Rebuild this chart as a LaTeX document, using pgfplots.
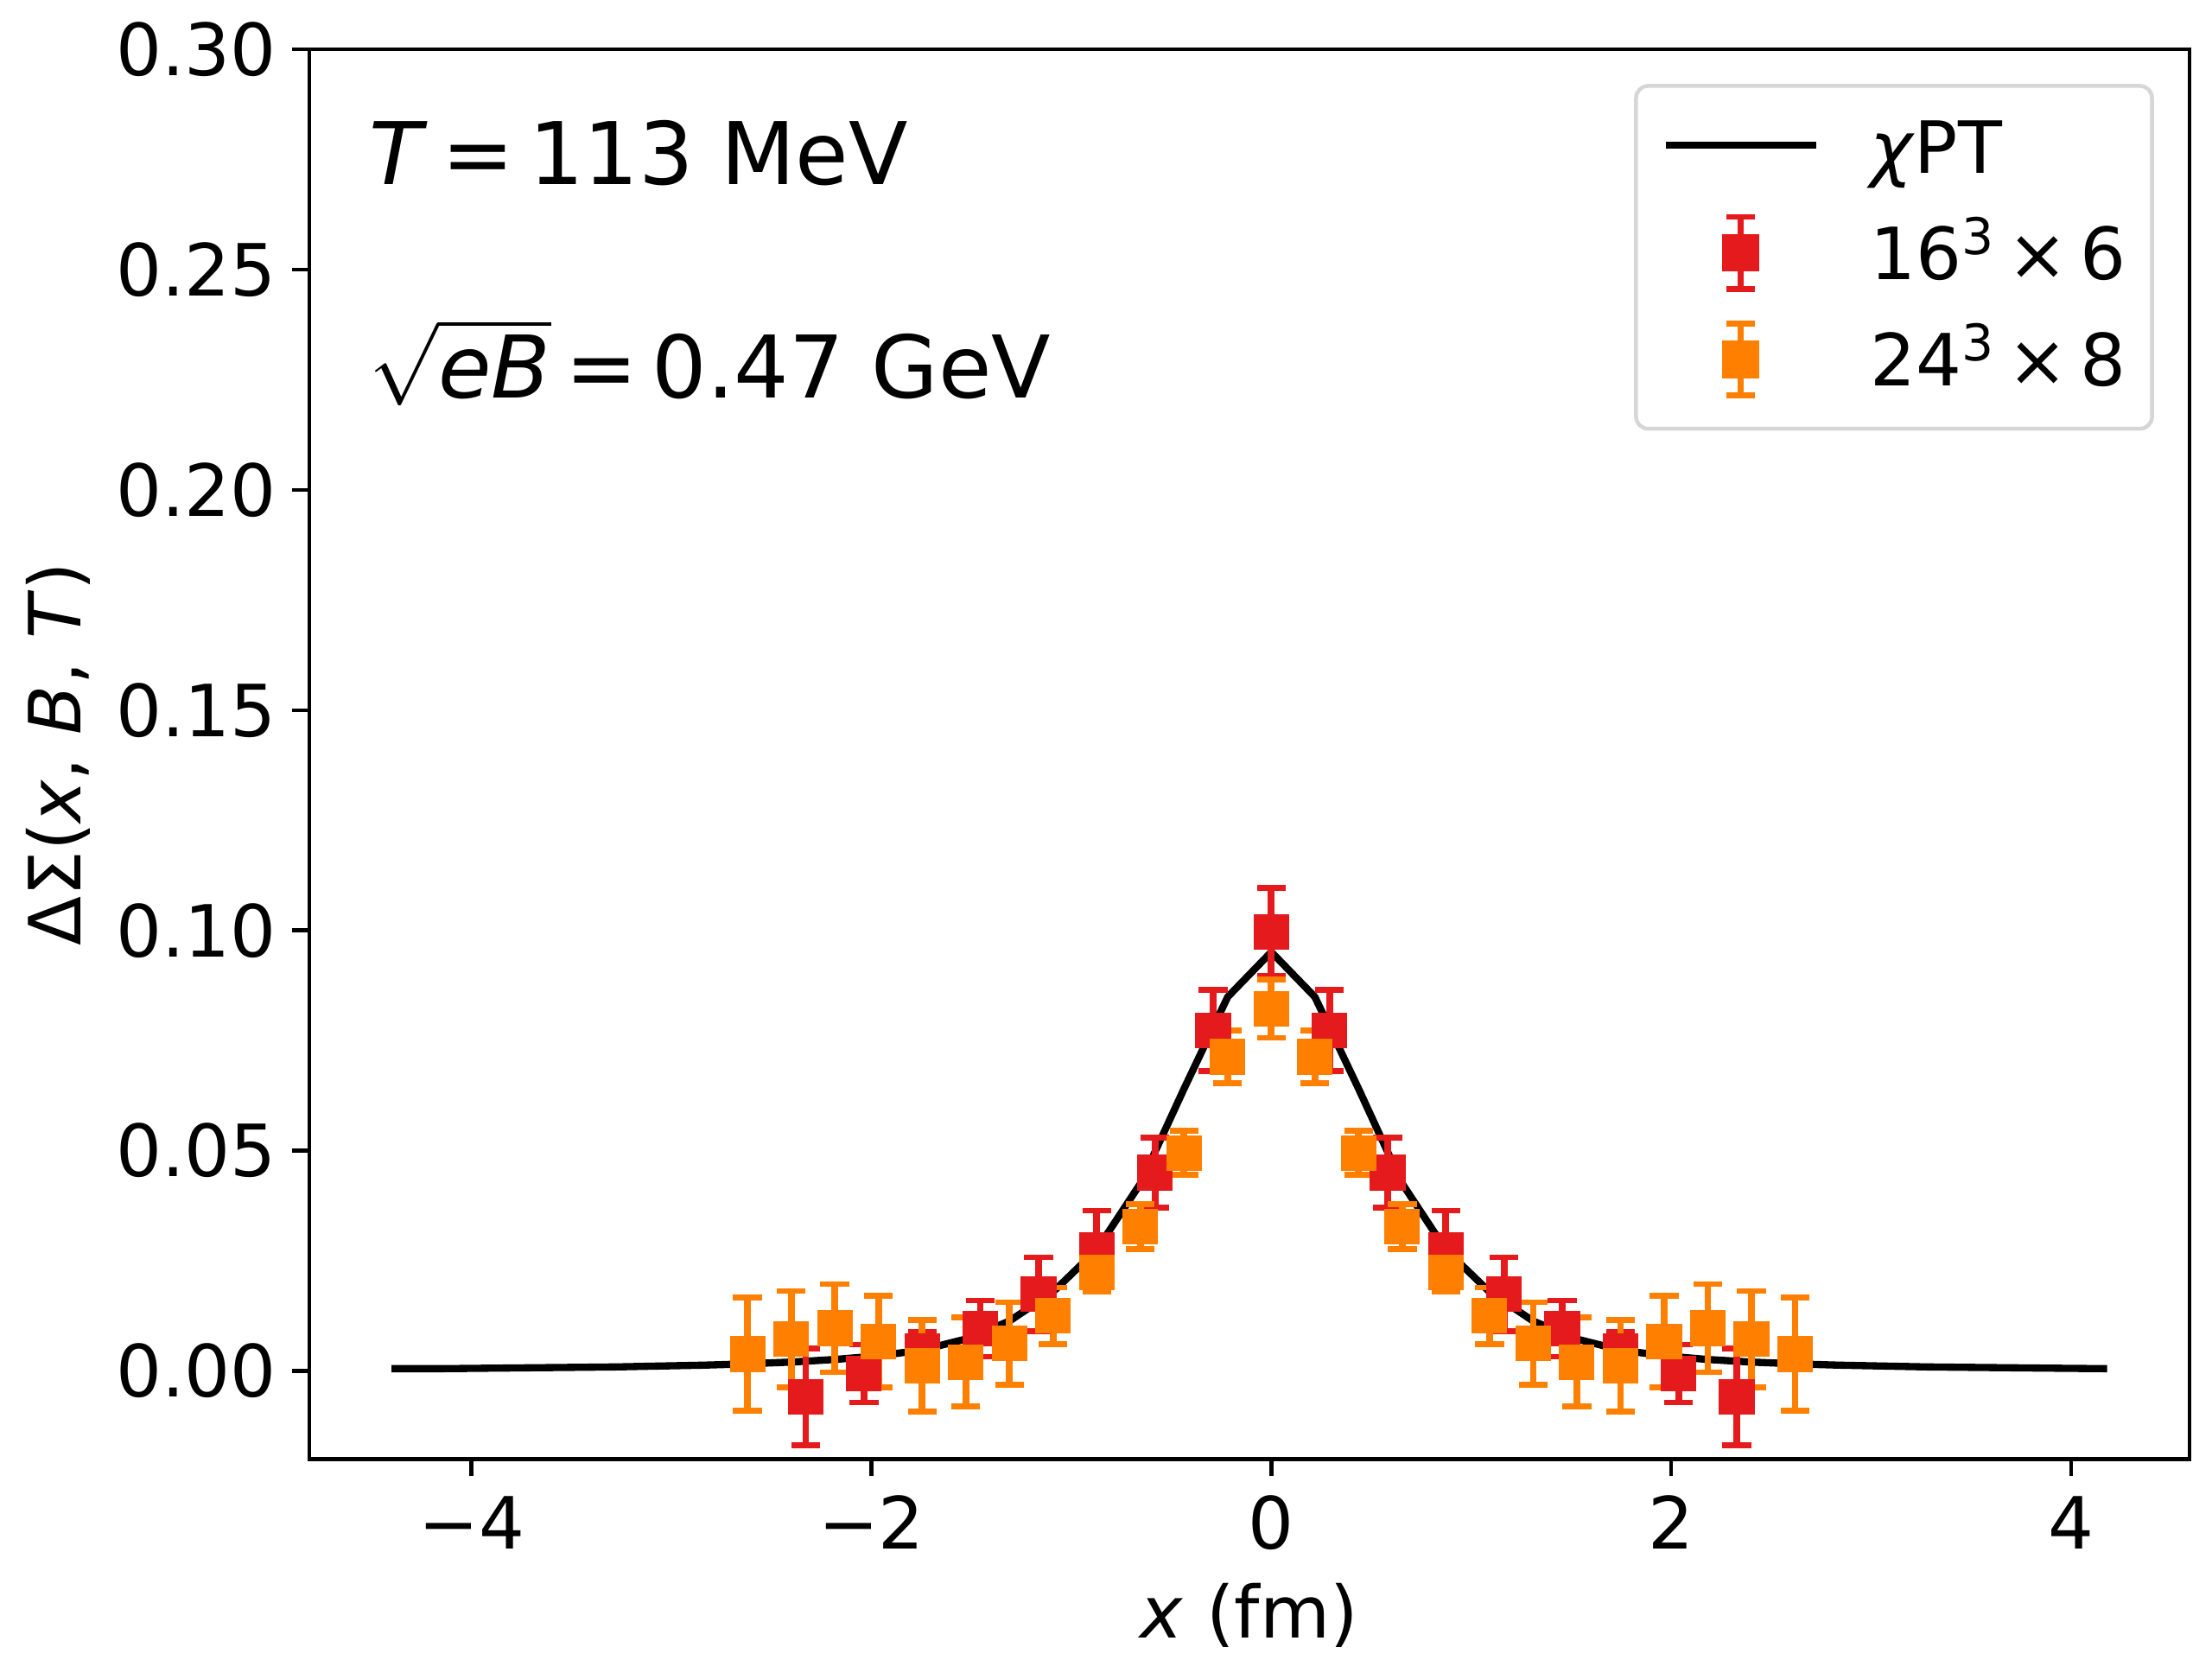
\documentclass[border=0pt]{standalone}
\usepackage{pgfplots}
\usepackage{pgfplotstable}
\pgfplotsset{compat=1.18}
\usepackage{fontspec}
\setmainfont{DejaVu Sans}
\definecolor{red1}{HTML}{E41A1C}
\definecolor{orange1}{HTML}{FF7F00}
\definecolor{legframe}{HTML}{D6D6D6}

\pgfplotstableread{
x y
-4.40 0.0005
-4.15 0.0005
-3.93 0.0006
-3.71 0.0007
-3.49 0.0008
-3.28 0.0009
-3.06 0.0011
-2.84 0.0013
-2.62 0.0016
-2.40 0.0020
-2.18 0.0026
-1.97 0.0034
-1.75 0.0047
-1.53 0.0072
-1.31 0.0113
-1.09 0.0180
-0.873 0.0275
-0.655 0.0425
-0.437 0.0640
-0.218 0.0849
0 0.0951
0.218 0.0849
0.437 0.0640
0.655 0.0425
0.873 0.0275
1.09 0.0180
1.31 0.0113
1.53 0.0072
1.75 0.0047
1.97 0.0034
2.18 0.0026
2.40 0.0020
2.62 0.0016
2.84 0.0013
3.06 0.0011
3.28 0.0009
3.49 0.0008
3.71 0.0007
3.93 0.0006
4.18 0.0005
}\chpttab

\pgfplotstableread{
x y e
-2.328 -0.0059 0.0110
-2.037 -0.0006 0.0066
-1.746 0.0045 0.0043
-1.455 0.0096 0.0064
-1.164 0.0174 0.0084
-0.873 0.0274 0.0090
-0.582 0.0450 0.0080
-0.291 0.0773 0.0092
0 0.0997 0.0100
0.291 0.0773 0.0092
0.582 0.0450 0.0080
0.873 0.0274 0.0090
1.164 0.0174 0.0084
1.455 0.0096 0.0064
1.746 0.0045 0.0043
2.037 -0.0006 0.0066
2.328 -0.0059 0.0110
}\redtab

\pgfplotstableread{
x y e
-2.6196 0.0038 0.0128
-2.4013 0.0072 0.0109
-2.1830 0.0097 0.0100
-1.9647 0.0066 0.0104
-1.7464 0.0012 0.0104
-1.5281 0.0020 0.0101
-1.3098 0.0062 0.0094
-1.0915 0.0125 0.0064
-0.8732 0.0224 0.0044
-0.6549 0.0328 0.0051
-0.4366 0.0495 0.0050
-0.2183 0.0713 0.0060
0 0.0822 0.0066
0.2183 0.0713 0.0060
0.4366 0.0495 0.0050
0.6549 0.0328 0.0051
0.8732 0.0224 0.0044
1.0915 0.0125 0.0064
1.3098 0.0062 0.0094
1.5281 0.0020 0.0101
1.7464 0.0012 0.0104
1.9647 0.0066 0.0104
2.1830 0.0097 0.0100
2.4013 0.0072 0.0109
2.6196 0.0038 0.0128
}\orangetab

\begin{document}
\begin{tikzpicture}
\begin{axis}[
  scale only axis, width=391.7pt, height=293.6pt,
  xmin=-4.812, xmax=4.592, ymin=-0.02, ymax=0.30,
  axis line style={line width=0.8pt},
  tick align=outside, xtick pos=bottom, ytick pos=left,
  major tick length=3.5pt,
  every tick/.style={black, line width=0.8pt},
  xtick={-4,-2,0,2,4}, xticklabels={−4,−2,0,2,4},
  ytick={0,0.05,0.1,0.15,0.2,0.25,0.3},
  yticklabels={0.00,0.05,0.10,0.15,0.20,0.25,0.30},
  ticklabel style={font=\fontsize{15}{18}\selectfont},
  xticklabel style={anchor=base, inner sep=0pt, yshift=-15.2pt},
  yticklabel style={anchor=east, inner sep=0pt, xshift=-3.1pt},
  xlabel={\textit{x} (fm)},
  ylabel={ΔΣ(\textit{x}, \textit{B}, \textit{T})},
  every axis x label/.style={at={([yshift=-37.3pt]axis description cs:0.5,0)}, anchor=base, font=\fontsize{15}{18}\selectfont, inner sep=0pt},
  every axis y label/.style={at={([xshift=-47.5pt]axis description cs:0,0.5)}, anchor=base, rotate=90, font=\fontsize{15}{18}\selectfont, inner sep=0pt},
  legend cell align=left,
  legend style={at={(rel axis cs:1,1)}, anchor=north east, xshift=-7.4pt, yshift=-7.2pt,
    draw=legframe, line width=0.8pt, rounded corners=2.5pt,
    inner xsep=5.4pt, inner ysep=4.5pt, row sep=4.1pt, column sep=10.5pt,
    font=\fontsize{15}{18}\selectfont,
    nodes={inner sep=0pt, text height=11pt, text depth=0pt}},
]
\addplot[black, line width=1.5pt, line join=round, mark=none,
  legend image code/.code={
    \path[draw=none, fill=none] (0pt,-9.9pt) rectangle (31.3pt,8.1pt);
    \draw[black, line width=1.5pt, sharp corners] (0pt,0.3pt) -- (31.3pt,0.3pt);}]
  table[x=x, y=y] {\chpttab};
\addlegendentry{\textit{χ}PT}

\addplot[only marks, mark=square*, mark size=3.5pt, color=red1,
  mark options={draw=none, fill=red1},
  legend image code/.code={
    \path[draw=none, fill=none] (0pt,-9.9pt) rectangle (31.3pt,8.1pt);
    \draw[red1, line width=1.4pt, sharp corners] (15.65pt,-7.5pt) -- (15.65pt,7.5pt);
    \draw[red1, line width=1.2pt, sharp corners] (12.65pt,-7.5pt) -- (18.65pt,-7.5pt) (12.65pt,7.5pt) -- (18.65pt,7.5pt);
    \fill[red1, sharp corners] (12.15pt,-3.5pt) rectangle (19.15pt,3.5pt);},
  error bars/.cd, y dir=both, y explicit, error mark=|,
  error bar style={line width=1.4pt, color=red1},
  error mark options={line width=1.2pt, mark size=3pt, color=red1}]
  table[x=x, y=y, y error=e] {\redtab};
\addlegendentry{16\textsuperscript{3}\,×\,6}

\addplot[only marks, mark=square*, mark size=3.5pt, color=orange1,
  mark options={draw=none, fill=orange1},
  legend image code/.code={
    \path[draw=none, fill=none] (0pt,-9.9pt) rectangle (31.3pt,8.1pt);
    \draw[orange1, line width=1.4pt, sharp corners] (15.65pt,-7.5pt) -- (15.65pt,7.5pt);
    \draw[orange1, line width=1.2pt, sharp corners] (12.65pt,-7.5pt) -- (18.65pt,-7.5pt) (12.65pt,7.5pt) -- (18.65pt,7.5pt);
    \fill[orange1, sharp corners] (12.15pt,-3.5pt) rectangle (19.15pt,3.5pt);},
  error bars/.cd, y dir=both, y explicit, error mark=|,
  error bar style={line width=1.4pt, color=orange1},
  error mark options={line width=1.2pt, mark size=3pt, color=orange1}]
  table[x=x, y=y, y error=e] {\orangetab};
\addlegendentry{24\textsuperscript{3}\,×\,8}

\node[anchor=base west, inner sep=0pt, font=\fontsize{18}{21.6}\selectfont] at (axis cs:-4.516,0.2693) {\textit{T}\,=\,113 MeV};
\node[anchor=base west, inner sep=0pt, font=\fontsize{18}{21.6}\selectfont] at (axis cs:-4.516,0.2209) {$\sqrt{\mbox{\itshape eB}}$\,=\,0.47 GeV};
\end{axis}
\pgfresetboundingbox
\path ([shift={(-64.4pt,-41.8pt)}]current axis.south west) rectangle ([shift={(4.7pt,10.3pt)}]current axis.north east);
\end{tikzpicture}
\end{document}
